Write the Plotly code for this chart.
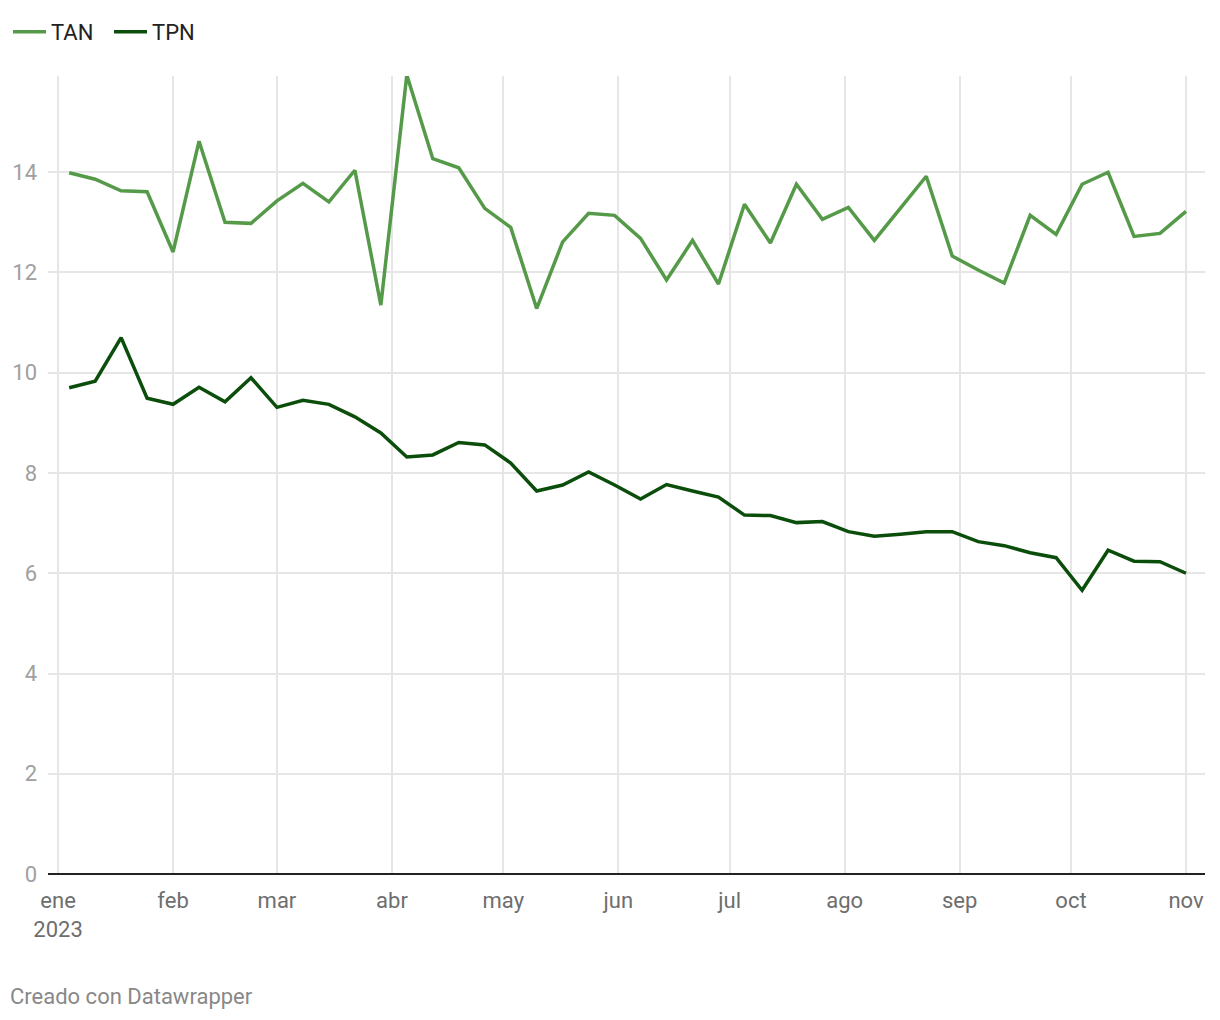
import plotly.graph_objects as go

dates = ["2023-01-04", "2023-01-11", "2023-01-18", "2023-01-25",
         "2023-02-01", "2023-02-08", "2023-02-15", "2023-02-22",
         "2023-03-01", "2023-03-08", "2023-03-15", "2023-03-22", "2023-03-29",
         "2023-04-05", "2023-04-12", "2023-04-19", "2023-04-26",
         "2023-05-03", "2023-05-10", "2023-05-17", "2023-05-24", "2023-05-31",
         "2023-06-07", "2023-06-14", "2023-06-21", "2023-06-28",
         "2023-07-05", "2023-07-12", "2023-07-19", "2023-07-26",
         "2023-08-02", "2023-08-09", "2023-08-16", "2023-08-23", "2023-08-30",
         "2023-09-06", "2023-09-13", "2023-09-20", "2023-09-27",
         "2023-10-04", "2023-10-11", "2023-10-18", "2023-10-25",
         "2023-11-01"]

tan = [13.99, 13.86, 13.63, 13.61, 12.41, 14.62, 13.00, 12.98, 13.43, 13.78,
       13.41, 14.04, 11.35, 15.94, 14.27, 14.09, 13.28, 12.90, 11.28, 12.61,
       13.18, 13.14, 12.68, 11.85, 12.64, 11.77, 13.36, 12.59, 13.76, 13.06,
       13.30, 12.64, 13.28, 13.92, 12.33, 12.05, 11.79, 13.14, 12.76, 13.76,
       14.00, 12.72, 12.78, 13.22]

tpn = [9.70, 9.83, 10.70, 9.49, 9.37, 9.71, 9.42, 9.90, 9.31, 9.45,
       9.37, 9.12, 8.80, 8.32, 8.36, 8.61, 8.56, 8.20, 7.64, 7.76,
       8.02, 7.76, 7.48, 7.77, 7.64, 7.52, 7.16, 7.15, 7.01, 7.03,
       6.83, 6.74, 6.78, 6.83, 6.83, 6.63, 6.55, 6.41, 6.31, 5.66,
       6.46, 6.24, 6.23, 6.00]

month_ticks = ["2023-01-01", "2023-02-01", "2023-03-01", "2023-04-01", "2023-05-01",
               "2023-06-01", "2023-07-01", "2023-08-01", "2023-09-01", "2023-10-01",
               "2023-11-01"]
month_labels = ["ene<br>2023", "feb", "mar", "abr", "may", "jun", "jul", "ago",
                "sep", "oct", "nov"]
y_ticks = [0, 2, 4, 6, 8, 10, 12, 14]

FONT = "Roboto"

# page has an 8px body margin; figure coords = page coords - 8
L, R, T, B = 40, 23, 68, 154
PW = 1220 - L - R
PH = 1020 - T - B

fig = go.Figure()
fig.add_trace(go.Scatter(x=dates, y=tan, name="TAN", mode="lines",
                         line=dict(color="#559a48", width=3.5), cliponaxis=False))
fig.add_trace(go.Scatter(x=dates, y=tpn, name="TPN", mode="lines",
                         line=dict(color="#0b4e0b", width=3.5), cliponaxis=False))

fig.update_layout(
    width=1220, height=1020,
    margin=dict(l=L, r=R, t=T, b=B),
    paper_bgcolor="white", plot_bgcolor="white",
    font=dict(family=FONT, size=22, color="#222222"),
    showlegend=True,
    legend=dict(orientation="h", xref="container", yref="container",
                x=-5.4 / 1220, y=1 - 3 / 1020, xanchor="left", yanchor="top",
                font=dict(size=22, color="#222222"),
                itemwidth=33, entrywidth=53, tracegroupgap=0,
                bgcolor="rgba(0,0,0,0)"),
    xaxis=dict(
        type="date",
        range=["2022-12-29 07:00", "2023-11-06 03:00"],
        tickvals=month_ticks, ticktext=month_labels,
        showgrid=True, gridcolor="#e6e6e6", gridwidth=2,
        showline=False, zeroline=False, automargin=False,
        ticks="", tickfont=dict(size=22, color="#6e6e6e", family=FONT),
        ticklabelstandoff=11,
    ),
    yaxis=dict(
        range=[0, 15.92],
        tickvals=y_ticks,
        showgrid=True, gridcolor="#e6e6e6", gridwidth=2,
        zeroline=True, zerolinecolor="#222222", zerolinewidth=2,
        automargin=False,
        ticks="", tickfont=dict(size=22, color="#a0a0a0", family=FONT),
        ticklabelstandoff=10,
    ),
    hovermode="x unified",
)

fig.add_annotation(text="Creado con Datawrapper", xref="paper", yref="paper",
                   x=(0 - L) / PW, y=(1020 - B - 989) / PH,
                   xanchor="left", yanchor="middle", showarrow=False,
                   font=dict(size=22, color="#888888", family=FONT))

fig.write_html("out.html")
